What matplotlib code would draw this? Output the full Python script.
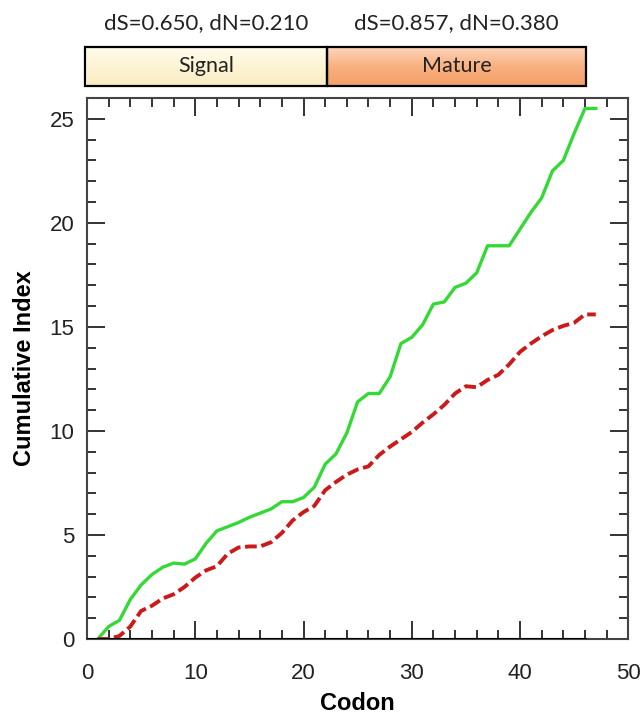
import numpy as np
import matplotlib.pyplot as plt
from matplotlib.ticker import MultipleLocator
from matplotlib.colors import LinearSegmentedColormap

# 数据
codons = list(range(1, 48))
cum_ds = [0, 0.6, 0.9, 1.9, 2.6, 3.1, 3.45, 3.65, 3.6, 3.85,
          4.6, 5.2, 5.4, 5.6, 5.85, 6.05, 6.25, 6.6, 6.6, 6.8,
          7.3, 8.4, 8.9, 9.9, 11.4, 11.8, 11.8, 12.6, 14.2, 14.5,
          15.1, 16.1, 16.2, 16.9, 17.1, 17.6, 18.9, 18.9, 18.9, 19.7,
          20.5, 21.2, 22.5, 23.0, 24.3, 25.5, 25.5]
cum_dn = [0, 0.0, 0.15, 0.6, 1.35, 1.6, 1.95, 2.15, 2.5, 2.95,
          3.3, 3.5, 4.1, 4.4, 4.45, 4.45, 4.65, 5.1, 5.7, 6.1,
          6.4, 7.15, 7.55, 7.9, 8.15, 8.3, 8.85, 9.25, 9.6, 9.95,
          10.4, 10.8, 11.25, 11.8, 12.15, 12.1, 12.45, 12.7, 13.2, 13.8,
          14.2, 14.55, 14.85, 15.05, 15.2, 15.6, 15.6]

regions = ["Signal", "Mature"]
region_edges = [-0.2, 22.2, 46.1]
region_stats = ["dS=0.650, dN=0.210", "dS=0.857, dN=0.380"]
region_colors = [["#fffcee", "#fdf4d4", "#f9ecc2"],
                 ["#fcd6bb", "#f9b080", "#f4a068"]]

fig = plt.figure(figsize=(6.43, 7.14), dpi=100)
ax = fig.add_axes([0.1353, 0.105, 0.8418, 0.7577])

ax.plot(codons, cum_ds, color="#35d935", lw=2.4, solid_joinstyle="round")
ax.plot(codons, cum_dn, color="#cc1a1a", lw=2.8, dashes=(3, 1.2))
# 底部黑线
ax.axhline(0, xmin=0, xmax=codons[-2] / 50, color="black", lw=2.2, zorder=3)

ax.set_xlim(0, 50)
ax.set_ylim(0, 26)
ax.xaxis.set_major_locator(MultipleLocator(10))
ax.xaxis.set_minor_locator(MultipleLocator(2))
ax.yaxis.set_major_locator(MultipleLocator(5))
ax.yaxis.set_minor_locator(MultipleLocator(1))
ax.tick_params(which="both", direction="in", top=True, right=True,
               color="#333333", width=1.4, labelsize=16, labelcolor="#222222")
ax.tick_params(which="major", length=13)
ax.tick_params(which="minor", length=6.5)
ax.tick_params(axis="x", which="major", pad=17)
ax.tick_params(axis="y", which="major", pad=9)
for lab in ax.get_xticklabels() + ax.get_yticklabels():
    lab.set_family("Liberation Sans")
for sp in ax.spines.values():
    sp.set_color("#444444")
    sp.set_linewidth(1.5)

ax.set_xlabel("Codon", fontsize=17, fontweight="bold", family="Liberation Sans", labelpad=6)
ax.set_ylabel("Cumulative Index", fontsize=17, fontweight="bold", family="Liberation Sans", labelpad=10)

# 顶部区域条
bar = fig.add_axes([0.1353, 0.8796, 0.8418, 0.0546])
bar.set_xlim(0, 50)
bar.set_ylim(0, 1)
bar.axis("off")
grad = np.linspace(0, 1, 64).reshape(-1, 1)
for i in range(len(regions)):
    x0, x1 = region_edges[i], region_edges[i + 1]
    cmap = LinearSegmentedColormap.from_list("r%d" % i, region_colors[i])
    bar.imshow(grad, cmap=cmap, aspect="auto", extent=(x0, x1, 0, 1), origin="upper")
    bar.add_patch(plt.Rectangle((x0, 0), x1 - x0, 1, fill=False, ec="black", lw=1.6, clip_on=False))
    xc = (x0 + x1) / 2
    bar.text(xc, 0.5, regions[i], ha="center", va="center", fontsize=15.5, family="Lato", color="#222222")
    bar.text(xc, 1.62, region_stats[i], ha="center", va="center", fontsize=16, family="Lato",
             color="#222222", clip_on=False)
bar.set_xlim(0, 50)
bar.set_ylim(0, 1)

fig.savefig("out.png", dpi=100)
